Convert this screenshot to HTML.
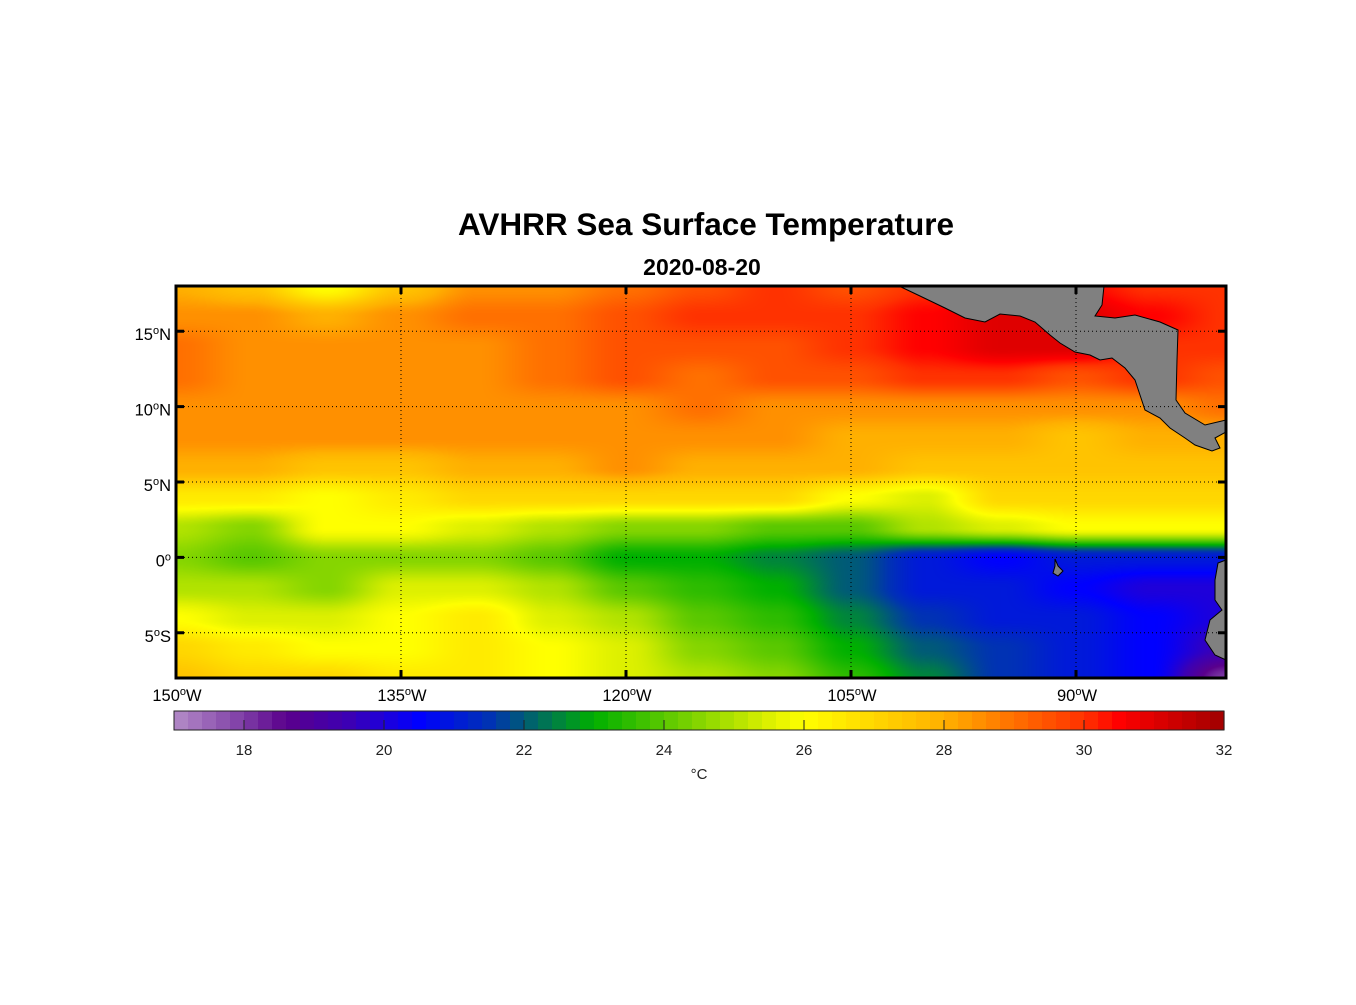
<!DOCTYPE html>
<html><head><meta charset="utf-8"><style>
body{margin:0;background:#fff;width:1356px;height:1000px;overflow:hidden;font-family:"Liberation Sans",Arial,sans-serif}
svg text{font-family:"Liberation Sans",Arial,sans-serif}
</style></head><body>
<svg id="chart" width="1356" height="1000" viewBox="0 0 1356 1000" xmlns="http://www.w3.org/2000/svg">
<text x="706" y="235" font-size="31.5" font-weight="bold" text-anchor="middle">AVHRR Sea Surface Temperature</text>
<text x="702" y="275" font-size="23" font-weight="bold" text-anchor="middle">2020-08-20</text>
<foreignObject x="176" y="286" width="1050" height="392"><canvas xmlns="http://www.w3.org/1999/xhtml" id="map" width="1050" height="392" style="display:block"></canvas></foreignObject>
<g id="land"></g>
<g id="grid"></g>
<rect x="176" y="286" width="1050" height="392" fill="none" stroke="#000" stroke-width="3"/>
<g id="ticks"></g>
<g id="cbar"></g>
<text x="699" y="779" font-size="15" text-anchor="middle" fill="#222">°C</text>
</svg>
<script>
const lons=[150,145,140,135,130,125,120,115,110,105,100,95,90,85,80];
const lats=[18,16,14,12,10,8,6,4,2,0,-2,-4,-6,-8];
const row18=[28,27.5,26,27.5,28.5,28.5,29,29.5,30,29.5,30,30.5,30.5,30,30];
const row16=[28.5,28.5,28,28.5,29,29,29.5,30,30,30,30.5,31,31,30.5,30];
const row14=[29,28.5,28.5,28.5,28.5,29,29.5,29.5,29.5,30,30.5,31,31,30,30];
const row12=[29,28.5,28.5,28.5,28.5,29,29.5,29,29.5,29.5,30,30,29.5,30,29.5];
const row10=[28.5,28.5,28.5,28.5,28.5,28.5,28.5,29,28.5,28.5,28.5,28.5,28.5,28.5,29];
const row8=[28.5,28.5,28.5,28.5,28.5,28.5,28.5,28.5,28.5,28,28,28,27.5,28,28];
const row6=[28,28,27.5,27.5,28,28,28.5,28,28,28,27.5,27.5,27.5,27.5,27.5];
const row4=[26.5,26.5,26,26.5,27,27,27,27,27,26,25.5,27,27,27,27];
const row2=[25,24.5,26,26,25.5,25,24.5,24.5,24,24,25,25.5,26,26,26];
const row0=[24.5,24,24.5,24.5,24.5,24,23,23,22.5,22,21,20.5,21,21,21];
const rowS2=[25,25,24.5,25.5,25.5,25,24,23.5,23,22,21,21,20.5,20,20];
const rowS4=[26,25.5,25.5,26,26.5,25.5,25,24,23.5,22.5,21.5,21,21,20.5,20];
const rowS6=[27,26.5,26,26,26.5,26,25.5,24.5,24,23,22,21.5,21,20.5,19.5];
const rowS8=[27.5,27,27,26.5,26.5,26,25.5,25,24.5,23.5,22.5,21.5,21,20.5,18];
const sst=[row18,row16,row14,row12,row10,row8,row6,row4,row2,row0,rowS2,rowS4,rowS6,rowS8];
const cbTicks=[18,20,22,24,26,28,30,32];
const lonTicks=[150,135,120,105,90];
const latTicks=[15,10,5,0,-5];

const X0=176,X1=1226,Y0=286,Y1=678,LONW=150,LONE=80,LATN=18,LATS=-8;
const xs=lon=>X0+(LONW-lon)/(LONW-LONE)*(X1-X0);
const ys=lat=>Y0+(LATN-lat)/(LATN-LATS)*(Y1-Y0);
const CB0=174,CB1=1224,VMIN=17,VMAX=32;
const cx=v=>CB0+(v-VMIN)/(VMAX-VMIN)*(CB1-CB0);
const stops=[[17,[180,140,200]],[18,[125,60,165]],[18.6,[90,0,140]],[19.5,[60,0,180]],[20.5,[0,0,255]],[21.5,[0,50,180]],[22,[0,90,120]],[23,[0,176,0]],[24,[90,200,0]],[25.5,[221,240,0]],[26,[255,255,0]],[27,[255,215,0]],[28,[255,176,0]],[29,[255,112,0]],[30,[255,50,0]],[30.5,[255,0,0]],[32,[160,0,0]]];
function cmap(v){if(v<=stops[0][0])return stops[0][1];for(let i=1;i<stops.length;i++){if(v<=stops[i][0]){const a=stops[i-1],b=stops[i],t=(v-a[0])/(b[0]-a[0]);return a[1].map((c,k)=>Math.round(c+(b[1][k]-c)*t));}}return stops[stops.length-1][1];}
function val(lon,lat){
 let fi=(LONW-lon)/5, fj=(LATN-lat)/2;
 fi=Math.max(0,Math.min(lons.length-1.0001,fi));fj=Math.max(0,Math.min(lats.length-1.0001,fj));
 const i=Math.floor(fi),j=Math.floor(fj),tx=fi-i,ty=fj-j;
 const sx=tx*tx*(3-2*tx),sy=ty*ty*(3-2*ty);
 const a=sst[j][i],b=sst[j][i+1],c=sst[j+1][i],d=sst[j+1][i+1];
 return (a*(1-sx)+b*sx)*(1-sy)+(c*(1-sx)+d*sx)*sy;
}
const cv=document.getElementById('map'),ctx=cv.getContext('2d'),img=ctx.createImageData(1050,392);
for(let y=0;y<392;y++)for(let x=0;x<1050;x++){
 const lon=LONW-(x/1050)*(LONW-LONE),lat=LATN-(y/392)*(LATN-LATS);
 const c=cmap(val(lon,lat)),k=(y*1050+x)*4;img.data[k]=c[0];img.data[k+1]=c[1];img.data[k+2]=c[2];img.data[k+3]=255;}
ctx.putImageData(img,0,0);
const NS='http://www.w3.org/2000/svg';
function mk(tag,attrs,parent){const e=document.createElementNS(NS,tag);for(const k in attrs)e.setAttribute(k,attrs[k]);parent.appendChild(e);return e;}
const land=document.getElementById('land');
let p=mk('polygon',{points:"899,286 1104,286 1102,305 1095,316 1115,318 1135,315 1160,322 1178,330 1177,360 1176,400 1185,413 1205,425 1226,420 1226,432 1215,438 1220,448 1212,451 1195,445 1185,438 1170,428 1160,418 1145,410 1140,395 1135,380 1125,368 1112,358 1100,360 1090,355 1075,352 1060,343 1050,335 1035,322 1020,316 1000,314 985,322 965,318 945,308 920,296",fill:"#808080",stroke:"#000","stroke-width":1},land);

p=mk('polygon',{points:"1226,560 1218,563 1215,580 1215,600 1222,610 1210,620 1205,640 1215,655 1226,660",fill:"#808080",stroke:"#000","stroke-width":1},land);

p=mk('polygon',{points:"1055,559 1058,566 1063,571 1058,576 1053,573 1055,566",fill:"#808080",stroke:"#000","stroke-width":1},land);

const grid=document.getElementById('grid'),ticks=document.getElementById('ticks');
lonTicks.forEach(l=>{const x=xs(l);
 const g=mk('line',{x1:x,x2:x,y1:Y0,y2:Y1,stroke:"#000","stroke-dasharray":"1,3","stroke-width":1},grid);
 
 mk('line',{x1:x,x2:x,y1:Y0,y2:Y0+8,stroke:"#000","stroke-width":3},ticks);
 mk('line',{x1:x,x2:x,y1:Y1-8,y2:Y1,stroke:"#000","stroke-width":3},ticks);
 const t=mk('text',{x:x+1,y:701,"font-size":16.5,"text-anchor":"middle"},ticks);
 
 t.innerHTML=l+'<tspan dy="-6" font-size="11">o</tspan><tspan dy="6">W</tspan>';});
latTicks.forEach(l=>{const y=ys(l);
 const g=mk('line',{x1:X0,x2:X1,y1:y,y2:y,stroke:"#000","stroke-dasharray":"1,3","stroke-width":1},grid);
 
 mk('line',{x1:X0,x2:X0+8,y1:y,y2:y,stroke:"#000","stroke-width":3},ticks);
 mk('line',{x1:X1-8,x2:X1,y1:y,y2:y,stroke:"#000","stroke-width":3},ticks);
 const t=mk('text',{x:171,y:y+9,"font-size":16.5,"text-anchor":"end"},ticks);
 
 const h=l>0?'N':(l<0?'S':'');
 t.innerHTML=Math.abs(l)+'<tspan dy="-6" font-size="11">o</tspan><tspan dy="6">'+h+'</tspan>';});
const cb=document.getElementById('cbar');
const N=75;
for(let i=0;i<N;i++){const v0=VMIN+i*(VMAX-VMIN)/N,v1=VMIN+(i+1)*(VMAX-VMIN)/N,c=cmap((v0+v1)/2);
 const r=mk('rect',{x:cx(v0),y:711,width:cx(v1)-cx(v0)+0.6,height:19,fill:'rgb('+c.join(',')+')'},cb);
 }
const fr=mk('rect',{x:CB0,y:711,width:CB1-CB0,height:19,fill:"none",stroke:"#222","stroke-width":1},cb);

cbTicks.forEach(v=>{const x=cx(v);
 mk('line',{x1:x,x2:x,y1:720,y2:730,stroke:"#222","stroke-width":1},cb);
 const t=mk('text',{x:x,y:755,"font-size":15,"text-anchor":"middle",fill:"#222"},cb);
 
 t.textContent=v;});
</script>
</body></html>
